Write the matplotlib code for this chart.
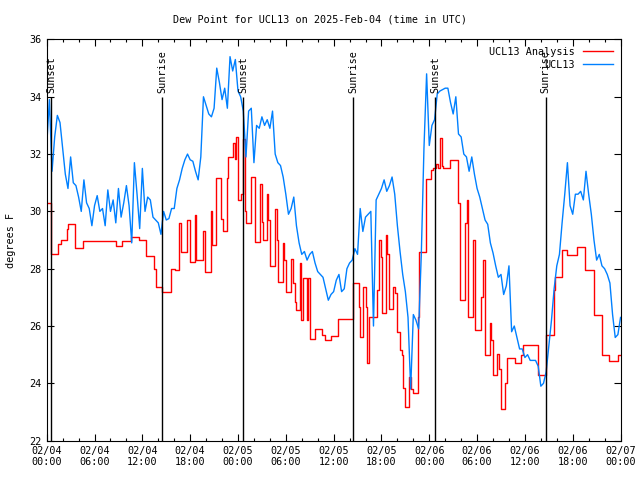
import numpy as np
import pandas as pd
import matplotlib
matplotlib.use("Agg")
import matplotlib.pyplot as plt
import matplotlib.dates as mdates

plt.rcParams['font.family'] = ['DejaVu Sans Mono']

# observed dew point, every 20 minutes from 2025-02-04 00:00 UTC
obs_vals = [
    32.3, 33.9, 31.4, 32.6, 33.35, 33.1, 32.2, 31.3, 30.8, 31.9,
    31.0, 30.9, 30.5, 30.0, 31.1, 30.3, 30.1, 29.5, 30.2, 30.55,
    30.0, 30.1, 29.5, 30.75, 30.0, 30.4, 29.6, 30.8, 29.8, 30.3,
    30.9, 30.2, 28.9, 31.7, 30.6, 29.4, 31.5, 30.0, 30.5, 30.4,
    29.8, 29.7, 29.6, 29.2, 30.0, 29.7, 29.75, 30.1, 30.1, 30.8,
    31.1, 31.5, 31.8, 32.0, 31.8, 31.75, 31.4, 31.1, 31.9, 34.0,
    33.7, 33.4, 33.3, 33.6, 35.0, 34.5, 33.9, 34.3, 33.6, 35.4,
    34.9, 35.3, 34.2, 34.0, 33.5, 31.9, 33.5, 33.6, 31.7, 33.0,
    32.9, 33.3, 33.0, 33.2, 32.9, 33.5, 32.0, 31.7, 31.6, 31.2,
    30.6, 29.9, 30.1, 30.5, 29.5, 28.9, 28.5, 28.6, 28.3, 28.5,
    28.6, 28.2, 27.9, 27.8, 27.7, 27.3, 26.9, 27.1, 27.2, 27.6,
    27.8, 27.2, 27.3, 28.0, 28.2, 28.3, 28.7, 28.5, 30.1, 29.3,
    29.8, 29.9, 30.0, 26.0, 30.4, 30.6, 30.8, 31.1, 30.7, 30.9,
    31.2, 30.6, 29.5, 28.6, 27.8, 27.2, 26.3, 23.8, 26.4, 26.2,
    25.9, 28.5, 32.2, 34.8, 32.3, 33.0, 33.2, 34.1, 34.2, 34.25,
    34.3, 34.3, 33.8, 33.4, 34.0, 32.7, 32.6, 32.0, 31.9, 31.4,
    31.9, 31.3, 30.8, 30.5, 30.1, 29.7, 29.55, 28.9, 28.55, 28.1,
    27.7, 27.8, 27.1, 27.4, 28.1, 25.8, 26.0, 25.6, 25.2, 25.2,
    24.9, 25.0, 24.8, 24.8, 24.8, 24.6, 23.9, 24.0, 24.4, 25.3,
    26.2, 27.3, 28.1, 28.5, 29.6, 30.6, 31.7, 30.2, 29.9, 30.6,
    30.6, 30.7, 30.4, 31.4, 30.6, 29.9, 29.0, 28.3, 28.5, 28.1,
    28.0, 27.8, 27.5, 26.4, 25.6, 25.7, 26.3,
]

# analysis: hours after 2025-02-04 00:00 UTC where the value changes
ana_hours = [
    0, 0.5, 1.42, 1.76, 2.5, 2.68, 3.56, 4.56, 8.66, 9.5,
    10.63, 11.6, 12.43, 13.47, 13.72, 14.52, 15.56, 16.07, 16.57, 16.82,
    17.57, 17.94, 18.57, 18.78, 19.6, 19.8, 20.57, 20.74, 21.29, 21.9,
    22.1, 22.6, 22.75, 23.38, 23.59, 23.8, 24.0, 24.42, 24.67, 24.84,
    25.05, 25.6, 26.13, 26.76, 26.95, 27.18, 27.6, 27.8, 28.0, 28.65,
    28.85, 29.06, 29.6, 29.77, 30.07, 30.7, 30.9, 31.1, 31.33, 31.75,
    31.96, 32.17, 32.6, 32.8, 33.0, 33.63, 34.5, 34.9, 35.72, 36.5,
    38.47, 39.19, 39.31, 39.73, 40.02, 40.15, 40.44, 41.49, 41.74, 41.9,
    42.03, 42.57, 42.74, 42.99, 43.5, 43.7, 43.9, 44.33, 44.54, 44.75,
    44.96, 45.5, 45.71, 45.92, 46.55, 46.71, 47.6, 48.2, 48.5, 48.9,
    49.1, 49.35, 49.56, 49.77, 50.6, 51.65, 51.86, 52.5, 52.7, 52.9,
    53.5, 53.7, 54.55, 54.77, 55.05, 55.58, 55.79, 56.0, 56.55, 56.71,
    56.97, 57.55, 57.8, 58.72, 59.56, 59.77, 61.65, 62.6, 63.6, 63.8,
    64.6, 65.24, 66.5, 67.6, 68.65, 69.66, 70.6, 71.7, 72.0,
]
ana_vals = [
    30.28, 28.5, 28.85, 29.0, 29.4, 29.55, 28.73, 28.97, 28.8, 28.97,
    29.12, 29.0, 28.45, 28.0, 27.35, 27.2, 28.0, 27.95, 29.6, 28.6,
    29.7, 28.24, 29.87, 28.3, 29.3, 27.89, 30.0, 28.82, 31.15, 29.75,
    29.3, 31.15, 31.9, 32.4, 31.84, 32.6, 30.39, 30.6, 32.54, 30.0,
    29.58, 31.2, 28.94, 30.97, 29.64, 29.0, 30.6, 29.7, 28.1, 30.1,
    29.0, 27.54, 28.9, 28.3, 27.19, 28.35, 27.5, 26.84, 26.55, 28.2,
    26.2, 27.66, 26.2, 27.66, 25.56, 25.9, 25.68, 25.5, 25.65, 26.25,
    27.5, 26.67, 25.6, 27.37, 26.67, 24.7, 26.32, 27.25, 29.0, 28.42,
    26.44, 29.17, 28.53, 26.58, 27.37, 27.15, 25.8, 25.16, 25.0, 23.82,
    23.18, 24.23, 23.8, 23.65, 26.3, 28.6, 31.12, 31.44, 31.5, 31.67,
    31.5, 32.55, 31.6, 31.5, 31.79, 30.28, 26.9, 29.58, 30.4, 26.32,
    29.0, 25.86, 27.0, 28.3, 25.0, 26.1, 25.5, 24.28, 25.04, 24.5,
    23.12, 24.0, 24.87, 24.7, 25.0, 25.33, 24.3, 25.7, 27.25, 27.7,
    28.65, 28.48, 28.77, 27.95, 26.38, 24.98, 24.78, 25.0, 25.0,
]

sun_times = ['2025-02-04 00:35', '2025-02-04 14:30', '2025-02-05 00:40',
             '2025-02-05 14:28', '2025-02-06 00:45', '2025-02-06 14:36']
sun_labels = ['Sunset', 'Sunrise', 'Sunset', 'Sunrise', 'Sunset', 'Sunrise']

start = pd.Timestamp('2025-02-04 00:00')
obs_times = pd.date_range(start, periods=len(obs_vals), freq='20min')
ana_times = start + pd.to_timedelta(ana_hours, unit='h')

fig = plt.figure(figsize=(6.4, 4.8), dpi=100)
ax = fig.add_axes([0.073, 0.082, 0.8966, 0.8358])

ax.plot(ana_times, ana_vals, color='#ff0000', lw=1.0, drawstyle='steps-post',
        label='UCL13 Analysis')
ax.plot(obs_times, obs_vals, color='#0080ff', lw=1.0, label='UCL13')

for t, lab in zip(sun_times, sun_labels):
    t = pd.Timestamp(t)
    ax.vlines(t, 22, 34, color='k', lw=1.0)
    ax.text(t, 34.12, lab, rotation=90, ha='center', va='bottom', fontsize=7.3)

ax.set_xlim(start, start + pd.Timedelta(hours=72))
ax.set_ylim(22, 36)
ax.set_yticks(np.arange(22, 37, 2))
ax.xaxis.set_major_locator(mdates.HourLocator(byhour=[0, 6, 12, 18]))
ax.xaxis.set_minor_locator(mdates.HourLocator(interval=2))
ax.xaxis.set_major_formatter(mdates.DateFormatter('%m/%d\n%H:%M'))
ax.tick_params(which='both', direction='in', top=True, right=True,
               labelsize=7.3, width=0.8)
ax.tick_params(which='major', length=5)
ax.tick_params(which='minor', length=2.5)
for sp in ax.spines.values():
    sp.set_linewidth(0.8)

ax.set_ylabel('degrees F', fontsize=7.3, labelpad=10)
fig.suptitle('Dew Point for UCL13 on 2025-Feb-04 (time in UTC)',
             fontsize=7.3, y=0.97)

ax.legend(loc='upper right', frameon=False, markerfirst=False, fontsize=7.3,
          handlelength=3.0, labelspacing=0.3, borderaxespad=0.3)

fig.savefig('out.png', dpi=100)
